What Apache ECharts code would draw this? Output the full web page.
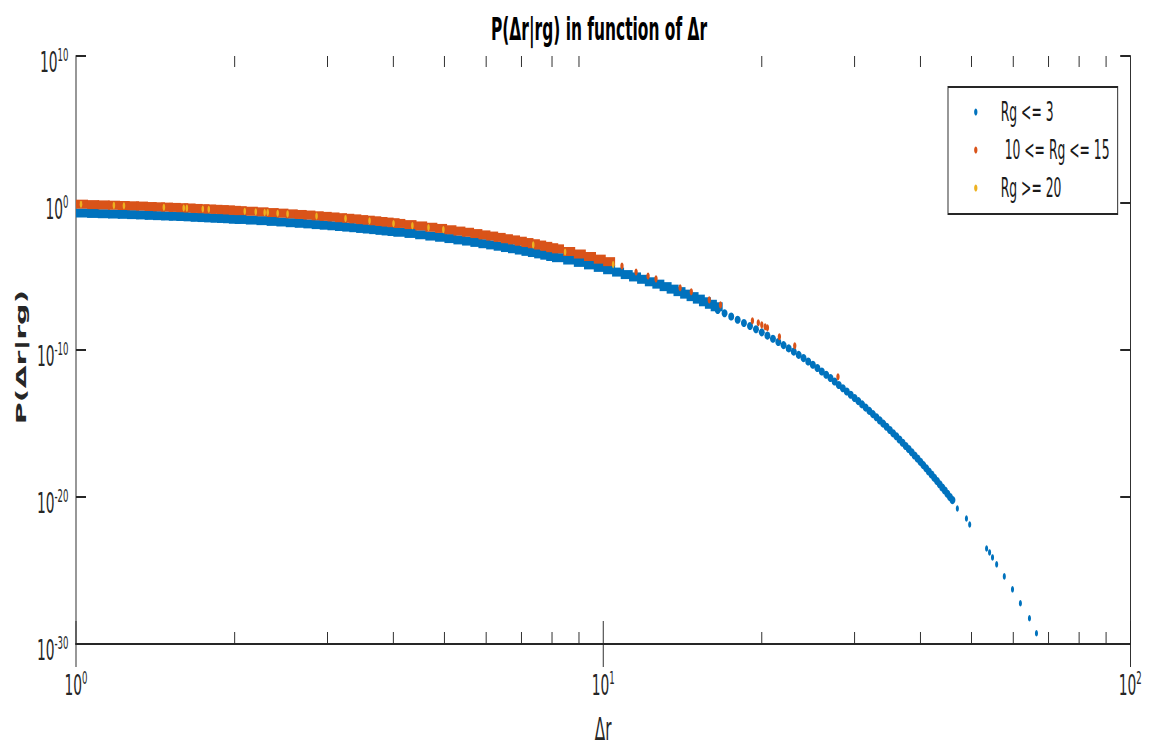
<!DOCTYPE html>
<html>
<head>
<meta charset="utf-8">
<script src="https://cdn.jsdelivr.net/npm/echarts@6/dist/echarts.min.js"></script>
<style>
html,body{margin:0;padding:0;overflow:hidden;background:#fff;width:1155px;height:749px;}
#c{height:749px;transform-origin:0 0;}
</style>
</head>
<body>
<div id="c"></div>
<script>
// ---------------- data ----------------
const xMajorTicks = [1, 10, 100];
const xMinorTicks = [2, 3, 4, 5, 6, 7, 8, 9, 20, 30, 40, 50, 60, 70, 80, 90];
const yMajorTicks = [1e-30, 1e-20, 1e-10, 1e0, 1e10];

const seriesNames = ['Rg <= 3', '\u00a010 <= Rg <= 15', 'Rg >= 20'];

// Rg <= 3 : x = Δr, exponent = log10 P
const blueX = [
  1.00,1.05,1.10,1.15,1.20,1.25,1.30,1.35,1.40,1.45,1.50,1.55,1.60,1.65,1.70,1.75,1.80,1.85,1.90,1.95,2.00,
  2.1,2.2,2.3,2.4,2.5,2.6,2.7,2.8,2.9,3.0,3.1,3.2,3.3,3.4,3.5,3.6,3.7,3.8,3.9,4.0,
  4.2,4.4,4.6,4.8,5.0,5.2,5.4,5.6,5.8,6.0,6.2,6.4,6.6,6.8,7.0,7.2,7.4,7.6,7.8,8.0,
  8.4,8.8,9.2,9.6,10.0,10.4,10.8,11.2,11.6,12.0,12.4,12.8,13.2,13.6,14.0,14.4,14.8,15.2,15.6,16.0,
  16.5,17.0,17.5,18.0,18.5,19.0,19.5,20.0,20.5,21.0,21.5,22.0,22.5,23.0,23.5,24.0,24.5,25.0,25.5,26.0,
  26.5,27.0,27.5,28.0,28.5,29.0,29.5,30.0,30.5,31.0,31.5,32.0,
  32.5,33,33.5,34,34.5,35,35.5,36,36.5,37,37.5,38,38.5,39,39.5,40,40.5,41,41.5,42,42.5,43,43.5,44,44.5,45,45.5,46,
  47.0,48.9,49.6,53.4,54.1,54.8,55.8,57.7,59.8,61.9,64.4,66.4
];
const blueExp = [
  -0.68,-0.71,-0.73,-0.75,-0.77,-0.79,-0.81,-0.84,-0.86,-0.88,-0.90,-0.92,-0.94,-0.97,-0.99,-1.01,-1.03,-1.05,-1.07,-1.10,-1.12,
  -1.16,-1.20,-1.25,-1.29,-1.34,-1.38,-1.42,-1.47,-1.51,-1.55,-1.60,-1.64,-1.68,-1.73,-1.77,-1.81,-1.86,-1.90,-1.94,-1.99,
  -2.07,-2.16,-2.25,-2.33,-2.42,-2.51,-2.59,-2.68,-2.77,-2.85,-2.94,-3.03,-3.11,-3.20,-3.29,-3.37,-3.46,-3.55,-3.64,-3.72,
  -3.88,-4.04,-4.21,-4.38,-4.54,-4.70,-4.87,-5.03,-5.19,-5.36,-5.52,-5.69,-5.86,-6.03,-6.20,-6.37,-6.54,-6.72,-6.89,-7.06,
  -7.28,-7.50,-7.72,-7.94,-8.16,-8.37,-8.59,-8.80,-9.02,-9.24,-9.46,-9.67,-9.89,-10.11,-10.33,-10.55,-10.78,-11.00,-11.23,-11.46,
  -11.68,-11.91,-12.14,-12.38,-12.60,-12.82,-13.04,-13.26,-13.48,-13.70,-13.92,-14.14,
  -14.36,-14.57,-14.79,-15.01,-15.22,-15.44,-15.66,-15.87,-16.09,-16.31,-16.53,-16.74,-16.96,-17.18,-17.39,-17.61,-17.83,-18.04,-18.26,-18.48,-18.70,-18.91,-19.13,-19.35,-19.56,-19.78,-20.00,-20.21,
  -20.78,-21.46,-21.87,-23.50,-23.77,-24.11,-24.58,-25.40,-26.28,-27.23,-28.25,-29.27
];

// 10 <= Rg <= 15
const orangeX = [
  1.00,1.05,1.10,1.15,1.20,1.25,1.30,1.35,1.40,1.45,1.50,1.55,1.60,1.65,1.70,1.75,1.80,1.85,1.90,1.95,2.00,
  2.1,2.2,2.3,2.4,2.5,2.6,2.7,2.8,2.9,3.0,3.1,3.2,3.3,3.4,3.5,3.6,3.7,3.8,3.9,4.0,
  4.2,4.4,4.6,4.8,5.0,5.2,5.4,5.6,5.8,6.0,6.2,6.4,6.6,6.8,7.0,7.2,7.4,7.6,7.8,8.0,
  8.4,8.8,9.2,9.6,10.0,
  10.86,11.55,12.17,12.6,14.0,14.7,15.9,16.7,19.2,19.7,20.0,20.3,20.5,21.6,23.1,27.9
];
const orangeExp = [
  -0.08,-0.11,-0.13,-0.15,-0.17,-0.19,-0.21,-0.24,-0.26,-0.28,-0.30,-0.32,-0.34,-0.37,-0.39,-0.41,-0.43,-0.45,-0.47,-0.50,-0.52,
  -0.56,-0.60,-0.65,-0.69,-0.74,-0.78,-0.82,-0.87,-0.91,-0.95,-1.00,-1.04,-1.08,-1.13,-1.17,-1.21,-1.26,-1.30,-1.34,-1.39,
  -1.47,-1.56,-1.65,-1.73,-1.82,-1.91,-1.99,-2.08,-2.17,-2.25,-2.34,-2.43,-2.51,-2.60,-2.69,-2.77,-2.86,-2.95,-3.04,-3.12,
  -3.30,-3.47,-3.64,-3.82,-3.99,
  -4.28,-4.69,-4.96,-5.16,-5.77,-6.04,-6.59,-6.93,-8.01,-8.15,-8.29,-8.42,-8.49,-9.10,-9.71,-11.82
];

// Rg >= 20
const yellowX = [1.022,1.18,1.233,1.468,1.601,1.623,1.740,1.786,2.09,2.193,2.28,2.31,2.413,2.52,2.86,3.246,3.605,4.003,4.347,4.664,4.977,7.37,8.47,10.45];
const yellowExp = [-0.09,-0.16,-0.19,-0.29,-0.34,-0.35,-0.41,-0.43,-0.56,-0.60,-0.64,-0.65,-0.70,-0.74,-0.89,-1.06,-1.21,-1.39,-1.54,-1.67,-1.81,-2.85,-3.33,-4.19];

// ---------------- presentation ----------------
const K = 0.475;                 // horizontal squeeze of the reference picture
const W = Math.round(1155 / K);  // drawing width before squeeze
const FONT = 'DejaVu Sans, Verdana, sans-serif';
const AX = '#262626';
const BLUE = '#0072BD', ORANGE = '#D95319', YELLOW = '#EDB120';
const X_MIN = xMajorTicks[0], X_MAX = xMajorTicks[xMajorTicks.length - 1];
const Y_MIN = yMajorTicks[0], Y_MAX = yMajorTicks[yMajorTicks.length - 1];

const dom = document.getElementById('c');
dom.style.width = W + 'px';
dom.style.transform = 'scaleX(' + K + ')';
const chart = echarts.init(dom, null, { renderer: 'svg', width: W, height: 749 });

const toPts = (xs, es) => xs.map((x, i) => [x, Math.pow(10, es[i])]);
const expLabel = v => '{b|10}{s|' + Math.round(Math.log10(v)) + '}';
const labelRich = {
  b: { fontFamily: FONT, fontSize: 29, lineHeight: 32, color: AX },
  s: { fontFamily: FONT, fontSize: 18, lineHeight: 18, color: AX, verticalAlign: 'top' }
};
const axisCommon = {
  axisLine: { show: true, lineStyle: { color: AX, width: 2 } },
  splitLine: { show: false },
  minorTick: { show: false },
  minorSplitLine: { show: false },
  nameMoveOverlap: false
};
const labelCommon = { show: true, showMinLabel: true, showMaxLabel: true, hideOverlap: false, formatter: expLabel, rich: labelRich };
const yTickStyle = { show: true, inside: true, length: 10 / K, customValues: yMajorTicks, lineStyle: { color: AX, width: 2 } };

const option = {
  animation: false,
  backgroundColor: '#fff',
  title: {
    text: 'P(Δr|rg) in function of Δr',
    left: 491 / K, top: 9, padding: 0,
    textStyle: { fontFamily: FONT, fontSize: 32.5, fontWeight: 'bold', color: '#000', lineHeight: 40 }
  },
  legend: {
    data: seriesNames.map(n => ({ name: n, icon: 'circle' })),
    orient: 'vertical',
    left: 948 / K, top: 87,
    itemWidth: 7, itemHeight: 7, itemGap: 12,
    padding: [12, 17, 13, 55],
    borderColor: AX, borderWidth: 2, borderRadius: 0,
    backgroundColor: '#fff',
    selectedMode: false,
    formatter: name => '{t|' + name + '}',
    textStyle: {
      fontFamily: FONT, fontSize: 26, color: '#1a1a1a',
      rich: { t: { fontFamily: FONT, fontSize: 26, padding: [0, 0, 0, 44], color: '#1a1a1a' } }
    }
  },
  grid: {
    left: 76 / K, right: (1155 - 1130) / K, top: 56, bottom: 749 - 644,
    containLabel: false, outerBoundsMode: 'none'
  },
  xAxis: [
    Object.assign({}, axisCommon, {
      type: 'log', logBase: 10, min: X_MIN, max: X_MAX, position: 'bottom',
      name: 'Δr', nameLocation: 'middle', nameGap: 72,
      nameTextStyle: { fontFamily: FONT, fontSize: 32, lineHeight: 26, color: AX },
      axisTick: { show: true, inside: true, length: 23, lineStyle: { color: AX, width: 2 } },
      axisLabel: Object.assign({}, labelCommon, { margin: 25 })
    }),
    Object.assign({}, axisCommon, {
      type: 'log', logBase: 10, min: X_MIN, max: X_MAX, position: 'top',
      axisTick: { show: true, inside: true, length: 23, lineStyle: { color: AX, width: 2 } },
      axisLabel: { show: false }
    })
  ],
  yAxis: [
    Object.assign({}, axisCommon, {
      type: 'log', logBase: 10, min: Y_MIN, max: Y_MAX, splitNumber: 4, position: 'left',
      name: 'P(Δr|rg)', nameLocation: 'middle', nameGap: 100, nameRotate: 90,
      nameTextStyle: { fontFamily: FONT, fontSize: 30, fontWeight: 'bold', color: AX, padding: [0, 14, 0, 0] },
      axisTick: yTickStyle,
      axisLabel: Object.assign({}, labelCommon, { margin: 16, padding: [12, 0, 0, 0], customValues: yMajorTicks })
    }),
    Object.assign({}, axisCommon, {
      type: 'log', logBase: 10, min: Y_MIN, max: Y_MAX, splitNumber: 4, position: 'right',
      axisTick: yTickStyle,
      axisLabel: { show: false }
    })
  ],
  series: [
    {
      name: seriesNames[0], type: 'scatter', silent: true,
      data: toPts(blueX, blueExp),
      symbol: v => (v[0] < 16.2 ? 'rect' : 'circle'),
      symbolSize: v => (v[0] < 16.2 ? [12 / K, 9] : (v[0] <= 46.5 ? [6 / K, 8] : [6.5, 6.5])),
      symbolOffset: v => (v[0] < 16.2 ? [6 / K, 0] : [0, 0]),
      itemStyle: { color: BLUE, opacity: 1 }
    },
    {
      name: seriesNames[1], type: 'scatter', silent: true,
      data: toPts(orangeX, orangeExp),
      symbol: v => (v[0] <= 10.01 ? 'rect' : 'circle'),
      symbolSize: v => (v[0] <= 10.01 ? [12 / K, 9] : [7, 7]),
      symbolOffset: v => (v[0] <= 10.01 ? [6 / K, 0] : [0, 0]),
      itemStyle: { color: ORANGE, opacity: 1 }
    },
    {
      name: seriesNames[2], type: 'scatter', silent: true,
      data: toPts(yellowX, yellowExp),
      symbol: 'circle', symbolSize: [5.5, 7],
      itemStyle: { color: YELLOW, opacity: 1 }
    },
    {
      name: 'minor ticks', type: 'custom', silent: true, z: 5, clip: false,
      data: xMinorTicks.map(v => [v, Y_MIN]),
      renderItem: (params, api) => {
        const x = api.value(0);
        const b = api.coord([x, Y_MIN]);
        const t = api.coord([x, Y_MAX]);
        return {
          type: 'group',
          children: [
            { type: 'line', shape: { x1: b[0], y1: b[1], x2: b[0], y2: b[1] - 12 }, style: { stroke: AX, lineWidth: 2 } },
            { type: 'line', shape: { x1: t[0], y1: t[1], x2: t[0], y2: t[1] + 11 }, style: { stroke: AX, lineWidth: 2 } }
          ]
        };
      }
    }
  ]
};
chart.setOption(option);
</script>
</body>
</html>
